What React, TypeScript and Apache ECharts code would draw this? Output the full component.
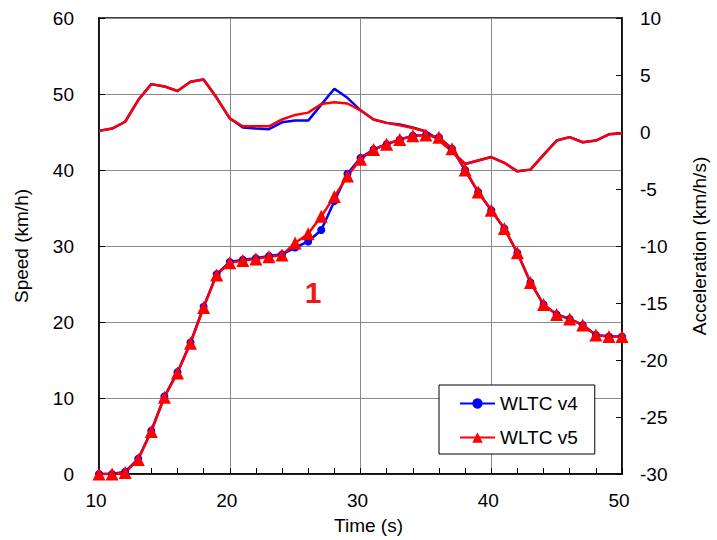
import React, { useEffect, useRef } from "react";
import * as echarts from "echarts";

// Time axis (s)
const time = [
  10, 11, 12, 13, 14, 15, 16, 17, 18, 19, 20, 21, 22, 23, 24, 25, 26, 27, 28, 29, 30,
  31, 32, 33, 34, 35, 36, 37, 38, 39, 40, 41, 42, 43, 44, 45, 46, 47, 48, 49, 50,
];

// Vehicle speed (km/h)
const speedV4 = [
  0, 0, 0.3, 2.0, 5.7, 10.2, 13.4, 17.3, 22.0, 26.3, 27.9, 28.2, 28.4, 28.7, 28.9, 29.8,
  30.6, 32.1, 35.9, 39.5, 41.6, 42.7, 43.4, 44.0, 44.5, 44.6, 44.3, 42.8, 40.0, 37.1, 34.7,
  32.3, 29.1, 25.2, 22.3, 21.0, 20.4, 19.6, 18.3, 18.1, 18.1,
];
const speedV5 = [
  0, 0, 0.2, 1.9, 5.6, 10.1, 13.3, 17.2, 21.9, 26.2, 27.8, 28.1, 28.3, 28.6, 28.8, 30.4,
  31.6, 33.9, 36.5, 39.2, 41.4, 42.7, 43.4, 44.0, 44.5, 44.6, 44.3, 42.8, 40.0, 37.1, 34.7,
  32.3, 29.1, 25.2, 22.3, 21.0, 20.4, 19.6, 18.3, 18.1, 18.1,
];

// Acceleration (km/h/s)
const accelV4 = [
  0.1, 0.3, 0.9, 2.8, 4.2, 4.0, 3.6, 4.4, 4.6, 3.0, 1.2, 0.4, 0.3, 0.25, 0.85, 1.0,
  1.0, 2.4, 3.8, 3.0, 1.9, 1.1, 0.8, 0.65, 0.4, 0.05, -0.7, -1.7, -2.8, -2.5, -2.2,
  -2.7, -3.45, -3.3, -2.0, -0.75, -0.45, -0.9, -0.75, -0.2, -0.1,
];
const accelV5 = [
  0.1, 0.3, 0.9, 2.8, 4.2, 4.0, 3.6, 4.4, 4.6, 3.0, 1.2, 0.5, 0.5, 0.5, 1.1, 1.5,
  1.7, 2.45, 2.6, 2.5, 1.9, 1.1, 0.8, 0.6, 0.35, 0.05, -0.7, -1.7, -2.8, -2.5, -2.2,
  -2.7, -3.45, -3.3, -2.0, -0.75, -0.45, -0.9, -0.75, -0.2, -0.1,
];

const seriesNames = ["WLTC v4", "WLTC v5"];
const blue = "#0000ff";
const red = "#ff0000";
const font = "'Liberation Sans', Arial, sans-serif";

const pairs = (ys: number[]) => time.map((t, i) => [t, ys[i]]);

export default function App() {
  const ref = useRef<HTMLDivElement>(null);

  useEffect(() => {
    if (!ref.current) return;
    const chart = echarts.init(ref.current, undefined, { renderer: "svg" });
    const axisText = { color: "#000", fontSize: 19, fontFamily: font };
    chart.setOption({
      animation: false,
      backgroundColor: "#fff",
      textStyle: { fontFamily: font },
      grid: {
        left: 99,
        right: 88,
        top: 18,
        bottom: 65,
        show: true,
        borderColor: "#000",
        borderWidth: 1.5,
      },
      legend: {
        data: seriesNames,
        orient: "vertical",
        left: 439,
        top: 385,
        padding: [9, 17, 7, 20],
        itemGap: 15,
        itemWidth: 35,
        itemHeight: 13,
        borderColor: "#000",
        borderWidth: 1,
        backgroundColor: "#fff",
        textStyle: { color: "#000", fontSize: 19, fontFamily: font },
      },
      xAxis: {
        type: "value",
        min: 10,
        max: 50,
        interval: 10,
        name: "Time (s)",
        nameLocation: "middle",
        nameGap: 42,
        nameTextStyle: { ...axisText, padding: [0, 0, 0, 16] },
        axisLine: { lineStyle: { color: "#000", width: 1.5 } },
        axisTick: { inside: true, length: 6, lineStyle: { color: "#000" } },
        minorTick: { show: true, splitNumber: 5, length: 6, lineStyle: { color: "#000" } },
        axisLabel: { ...axisText, margin: 17, padding: [0, 6, 0, 0] },
        splitLine: { show: true, lineStyle: { color: "#888", width: 1 } },
      },
      yAxis: [
        {
          type: "value",
          min: 0,
          max: 60,
          interval: 10,
          name: "Speed (km/h)",
          nameLocation: "middle",
          nameGap: 68,
          nameTextStyle: axisText,
          axisLine: { show: true, lineStyle: { color: "#000", width: 1.5 } },
          axisTick: { show: true, inside: true, length: 6, lineStyle: { color: "#000" } },
          axisLabel: { ...axisText, margin: 25 },
          splitLine: { show: true, lineStyle: { color: "#888", width: 1 } },
        },
        {
          type: "value",
          min: -30,
          max: 10,
          interval: 5,
          name: "Acceleration (km/h/s)",
          nameLocation: "middle",
          nameGap: 68,
          nameTextStyle: axisText,
          axisLine: { show: true, lineStyle: { color: "#000", width: 1.5 } },
          axisTick: { show: true, inside: true, length: 6, lineStyle: { color: "#000" } },
          axisLabel: { ...axisText, margin: 18 },
          splitLine: { show: false },
        },
      ],
      series: [
        {
          name: "WLTC v4 acceleration",
          type: "line",
          yAxisIndex: 1,
          data: pairs(accelV4),
          symbol: "none",
          lineStyle: { color: blue, width: 2.5 },
          itemStyle: { color: blue },
        },
        {
          name: "WLTC v5 acceleration",
          type: "line",
          yAxisIndex: 1,
          data: pairs(accelV5),
          symbol: "none",
          lineStyle: { color: red, width: 2.5 },
          itemStyle: { color: red },
        },
        {
          name: seriesNames[0],
          type: "line",
          yAxisIndex: 0,
          data: pairs(speedV4),
          symbol: "circle",
          symbolSize: 8,
          lineStyle: { color: blue, width: 2.5 },
          itemStyle: { color: blue },
        },
        {
          name: seriesNames[1],
          type: "line",
          yAxisIndex: 0,
          data: pairs(speedV5),
          symbol: "triangle",
          symbolSize: 13,
          lineStyle: { color: red, width: 2.5 },
          itemStyle: { color: red },
        },
      ],
      graphic: [
        {
          type: "text",
          x: 313,
          y: 292,
          style: {
            text: "1",
            fill: "#f01818",
            font: `bold 30px ${font}`,
            textAlign: "center",
            textVerticalAlign: "middle",
          },
        },
      ],
    });
    return () => chart.dispose();
  }, []);

  return (
    <div
      ref={ref}
      style={{ position: "absolute", left: 0, top: 0, width: 717, height: 540 }}
    />
  );
}
